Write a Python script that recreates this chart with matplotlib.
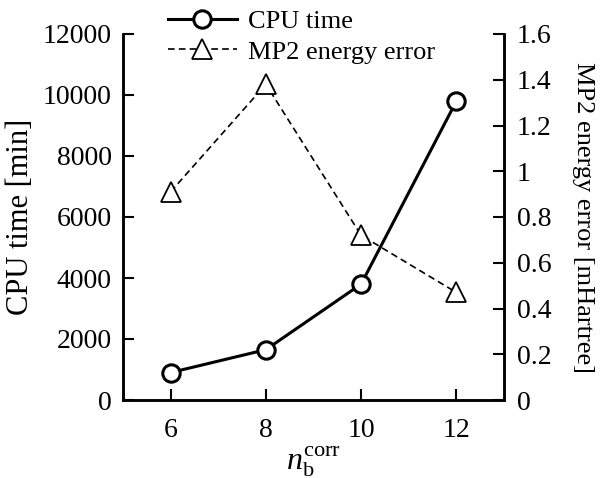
import matplotlib
matplotlib.use("Agg")
import matplotlib.pyplot as plt

plt.rcParams['font.family'] = ['Liberation Serif', 'DejaVu Serif']
plt.rcParams['mathtext.fontset'] = 'custom'
plt.rcParams['mathtext.rm'] = 'Liberation Serif'
plt.rcParams['mathtext.it'] = 'Liberation Serif:italic'

n_corr = [6, 8, 10, 12]
cpu_time = [900, 1650, 3800, 9800]
mp2_error = [0.91, 1.38, 0.72, 0.47]
x_ticks = [6, 8, 10, 12]
left_ticks = [0, 2000, 4000, 6000, 8000, 10000, 12000]
right_ticks = [0, 0.2, 0.4, 0.6, 0.8, 1.0, 1.2, 1.4, 1.6]
right_labels = ['0', '0.2', '0.4', '0.6', '0.8', '1', '1.2', '1.4', '1.6']

fig = plt.figure(figsize=(6.01, 4.78), dpi=100)
ax = fig.add_axes([123/601, 1-400/478, (504-123)/601, (400-34)/478])
ax2 = ax.twinx()

l1, = ax.plot(n_corr, cpu_time, '-', color='black', lw=2.2, marker='o', ms=12.5,
              mfc='white', mec='black', mew=2.2, label='CPU time', zorder=3)
l2, = ax2.plot(n_corr, mp2_error, '--', color='black', lw=1.2, marker='^', ms=15,
               mfc='white', mec='black', mew=1.3, label='MP2 energy error', dashes=(4, 2.5))

ax.set_xlim(5, 13)
ax.set_ylim(0, 12000)
ax2.set_ylim(0, 1.6)
ax.set_xticks(x_ticks)
ax.set_yticks(left_ticks)
ax2.set_yticks(right_ticks)
ax2.set_yticklabels(right_labels)

for a in (ax, ax2):
    a.spines['top'].set_visible(False)
    for s in a.spines.values():
        s.set_linewidth(1.8)
ax.tick_params(axis='x', direction='in', length=8, width=1.5, labelsize=20, pad=13)
ax.tick_params(axis='y', direction='in', length=8, width=1.5, labelsize=20, pad=8)
ax2.tick_params(axis='y', direction='in', length=8, width=1.5, labelsize=20, pad=9)

ax.set_xlabel(r'$n_\mathrm{b}^\mathrm{corr}$', fontsize=23, labelpad=1)
ax.set_ylabel('CPU time [min]', fontsize=22, labelpad=6)
ax2.set_ylabel('MP2 energy error [mHartree]', fontsize=19, rotation=270, labelpad=31)

fig.legend(handles=[l1, l2], loc='upper left', bbox_to_anchor=(168/601, 1-10/478),
           frameon=False, fontsize=19, handlelength=2.6, handletextpad=0.42,
           labelspacing=0.25, borderpad=0, borderaxespad=0)

fig.savefig('out.png', dpi=100)
